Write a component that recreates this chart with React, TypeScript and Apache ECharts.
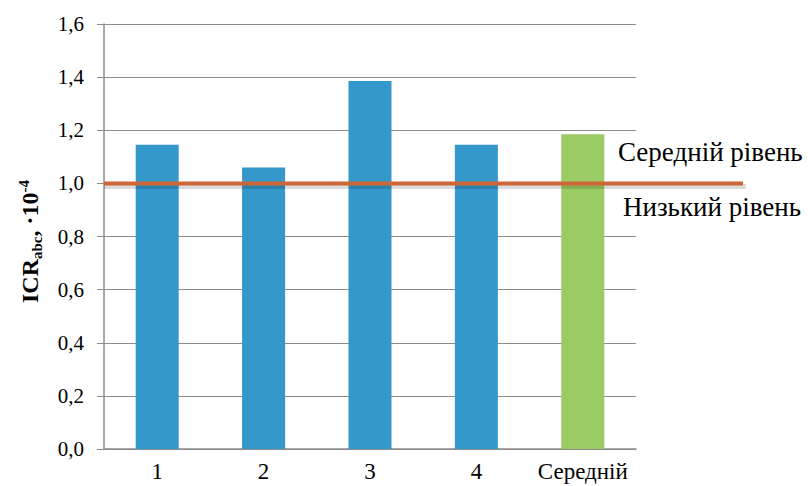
import React, { useEffect, useRef } from "react";
import * as echarts from "echarts";

const categories = ["1", "2", "3", "4", "Середній"];
const values = [1.145, 1.06, 1.385, 1.145, 1.185];
const barColors = ["#3598CB", "#3598CB", "#3598CB", "#3598CB", "#9BCB64"];
const levelLine = [
  [0, 1.0],
  [1, 1.0],
];
const upperLabel = "Середній рівень";
const lowerLabel = "Низький рівень";

const serif = "Liberation Serif";

export default function App() {
  const ref = useRef<HTMLDivElement>(null);
  useEffect(() => {
    if (!ref.current) return;
    const chart = echarts.init(ref.current, undefined, { renderer: "svg" });
    chart.setOption({
      animation: false,
      backgroundColor: "#ffffff",
      textStyle: { fontFamily: serif },
      grid: [
        { left: 104, right: 172, top: 24, bottom: 37 },
        { left: 104, right: 65, top: 24, bottom: 37 },
        { left: 104, right: 62, top: 27, bottom: 34 },
      ],
      xAxis: [
        {
          type: "category",
          gridIndex: 0,
          data: categories,
          axisLine: { lineStyle: { color: "#8c8c8c", width: 1.5 } },
          axisTick: { show: false },
          axisLabel: {
            margin: 11,
            formatter: (v: string) => `{a|${v}}`,
            rich: { a: { color: "#000", fontFamily: serif, fontSize: 23 } },
          },
        },
        { type: "value", gridIndex: 1, min: 0, max: 1, show: false },
        { type: "value", gridIndex: 2, min: 0, max: 1, show: false },
      ],
      yAxis: [
        {
          type: "value",
          gridIndex: 0,
          min: 0,
          max: 1.6,
          interval: 0.2,
          axisLine: { show: true, lineStyle: { color: "#8c8c8c", width: 1.5 } },
          axisTick: { show: true, length: 7, lineStyle: { color: "#8c8c8c" } },
          splitLine: { lineStyle: { color: "#8c8c8c", width: 1.2 } },
          axisLabel: {
            margin: 20,
            formatter: (v: number) => `{a|${v.toFixed(1).replace(".", ",")}}`,
            rich: { a: { color: "#000", fontFamily: serif, fontSize: 21 } },
          },
          name: "{b|ICR}{sub|abc}{b|, ·10}{sup|-4}",
          nameLocation: "middle",
          nameGap: 60,
          nameTextStyle: {
            padding: [0, 10, 0, 0],
            rich: {
              b: { fontFamily: serif, fontSize: 24, fontWeight: "bold", color: "#000", lineHeight: 28 },
              sub: { fontFamily: serif, fontSize: 15, fontWeight: "bold", color: "#000", verticalAlign: "bottom", lineHeight: 28, padding: [10, 0, 0, 0] },
              sup: { fontFamily: serif, fontSize: 15, fontWeight: "bold", color: "#000", verticalAlign: "top", lineHeight: 28, padding: [0, 0, 12, 0] },
            },
          },
        },
        { type: "value", gridIndex: 1, min: 0, max: 1.6, show: false },
        { type: "value", gridIndex: 2, min: 0, max: 1.6, show: false },
      ],
      series: [
        {
          type: "bar",
          xAxisIndex: 0,
          yAxisIndex: 0,
          barWidth: 43,
          data: values.map((v, i) => ({ value: v, itemStyle: { color: barColors[i] } })),
          z: 2,
        },
        {
          type: "line",
          xAxisIndex: 2,
          yAxisIndex: 2,
          data: levelLine,
          symbol: "none",
          silent: true,
          lineStyle: { color: "rgba(0,0,0,0.14)", width: 5 },
          z: 4,
        },
        {
          type: "line",
          xAxisIndex: 1,
          yAxisIndex: 1,
          data: levelLine,
          symbol: "none",
          lineStyle: { color: "#CF6637", width: 4 },
          z: 5,
        },
      ],
      graphic: [
        {
          type: "text",
          left: 618,
          top: 138,
          style: {
            text: `{a|${upperLabel}}`,
            rich: { a: { fontFamily: serif, fontSize: 27, fill: "#000" } },
          },
        },
        {
          type: "text",
          left: 623,
          top: 193,
          style: {
            text: `{a|${lowerLabel}}`,
            rich: { a: { fontFamily: serif, fontSize: 27, fill: "#000" } },
          },
        },
      ],
    });
    return () => chart.dispose();
  }, []);
  return (
    <div
      ref={ref}
      style={{ position: "fixed", left: 0, top: 0, width: 808, height: 486 }}
    />
  );
}
